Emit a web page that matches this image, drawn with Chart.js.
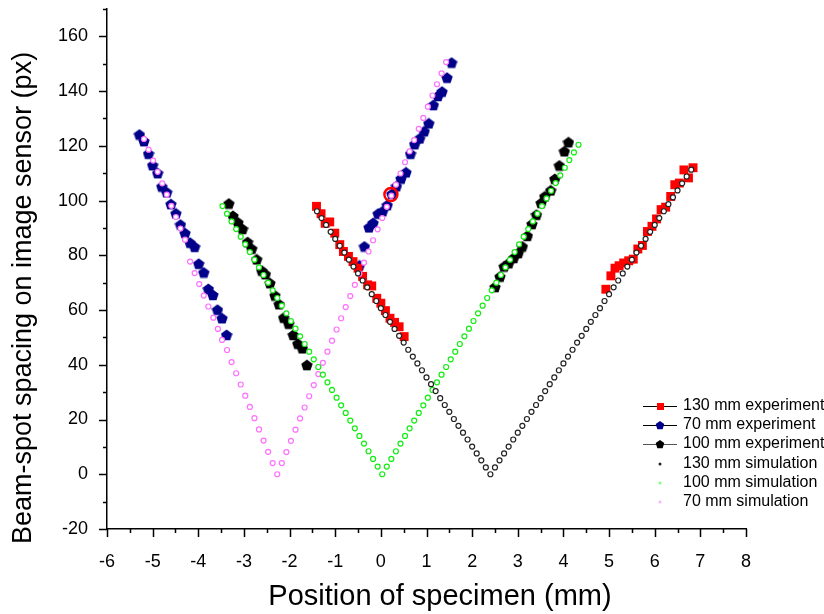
<!DOCTYPE html>
<html>
<head>
<meta charset="utf-8">
<script src="https://cdn.jsdelivr.net/npm/chart.js@4.4.1/dist/chart.umd.min.js"></script>
<style>
  html, body { margin: 0; padding: 0; background: #fff; }
  canvas { display: block; }
</style>
</head>
<body>
<canvas id="chart" width="824" height="614"></canvas>
<script>
// ── Data ──────────────────────────────────────────────────
const xTicks = [-6, -5, -4, -3, -2, -1, 0, 1, 2, 3, 4, 5, 6, 7, 8];
const yTicks = [-20, 0, 20, 40, 60, 80, 100, 120, 140, 160];

const legendLabels = ['130 mm experiment', '70 mm experiment', '100 mm experiment',
                      '130 mm simulation', '100 mm simulation', '70 mm simulation'];

// 130 mm experiment (red squares)
const exp130X = [-1.41, -1.31, -1.22, -1.12, -1.01, -0.90, -0.82, -0.71, -0.61, -0.50, -0.40, -0.29, -0.20, -0.09, 0.00, 0.10, 0.20, 0.30, 0.40, 0.51,
                 4.93, 5.04, 5.13, 5.22, 5.32, 5.43, 5.53, 5.63, 5.73, 5.84, 5.94, 6.04, 6.14, 6.24, 6.35, 6.44, 6.54, 6.64, 6.74, 6.84];
const exp130Y = [97.9, 95.2, 91.7, 92.2, 88.1, 83.9, 81.4, 79.6, 77.7, 75.3, 72.3, 69.2, 68.8, 64.3, 62.5, 59.8, 57.0, 55.5, 53.9, 50.3,
                 67.6, 72.5, 75.3, 76.2, 77.2, 78.0, 78.6, 82.3, 83.6, 88.7, 90.6, 93.3, 96.7, 97.6, 101.5, 105.8, 106.4, 111.2, 108.3, 112.0];

// 70 mm experiment (blue pentagons)
const exp70X = [-5.29, -5.19, -5.09, -5.00, -4.89, -4.80, -4.69, -4.60, -4.49, -4.39, -4.29, -4.18, -4.08, -3.99, -3.88, -3.78, -3.68, -3.58, -3.48, -3.38,
                -0.47, -0.36, -0.26, -0.17, -0.06, 0.04, 0.14, 0.24, 0.34, 0.44, 0.55, 0.65, 0.74, 0.85, 0.95, 1.05, 1.15, 1.25, 1.34, 1.45, 1.55];
const exp70Y = [124.1, 121.7, 117.1, 112.9, 110.0, 105.1, 103.0, 98.7, 95.3, 91.2, 88.1, 84.6, 83.1, 76.9, 73.7, 67.7, 65.5, 60.1, 57.0, 50.9,
                76.3, 83.2, 90.2, 91.8, 95.2, 96.1, 98.3, 102.4, 105.2, 108.0, 110.3, 117.1, 120.6, 122.7, 125.3, 128.2, 134.9, 138.2, 139.8, 144.9, 150.4];

// 100 mm experiment (black pentagons)
const exp100X = [-3.33, -3.24, -3.13, -3.03, -2.92, -2.83, -2.72, -2.61, -2.53, -2.43, -2.32, -2.23, -2.13, -2.02, -1.92, -1.82, -1.72, -1.62,
                 2.50, 2.61, 2.70, 2.80, 2.91, 3.01, 3.10, 3.21, 3.31, 3.41, 3.51, 3.59, 3.72, 3.81, 3.91, 4.02, 4.11];
const exp100Y = [98.9, 94.4, 92.0, 89.6, 84.8, 82.4, 78.5, 74.4, 73.1, 69.8, 65.3, 62.1, 57.2, 55.0, 50.9, 47.7, 46.0, 39.9,
                 68.4, 72.2, 75.9, 77.1, 79.0, 80.8, 83.2, 87.1, 91.4, 94.8, 99.1, 101.5, 103.7, 107.9, 112.8, 118.0, 121.3];

// 130 mm simulation (black open circles)
const sim130X = [-1.40, -1.30, -1.20, -1.10, -1.00, -0.90, -0.80, -0.70, -0.60, -0.50, -0.40, -0.30, -0.20, -0.10, 0.00, 0.10, 0.20, 0.30, 0.40, 0.50,
                 0.60, 0.70, 0.80, 0.90, 1.00, 1.10, 1.20, 1.30, 1.40, 1.50, 1.60, 1.70, 1.80, 1.90, 2.00, 2.10, 2.20, 2.30, 2.40,
                 2.50, 2.60, 2.70, 2.80, 2.90, 3.00, 3.10, 3.20, 3.30, 3.40, 3.50, 3.60, 3.70, 3.80, 3.90, 4.00, 4.10, 4.20, 4.30, 4.40,
                 4.50, 4.60, 4.70, 4.80, 4.90, 5.00, 5.10, 5.20, 5.30, 5.40, 5.50, 5.60, 5.70, 5.80, 5.90, 6.00, 6.10, 6.20, 6.30, 6.40,
                 6.50, 6.60, 6.70, 6.80];
const sim130Y = [96.1, 93.6, 91.1, 88.6, 86.0, 83.5, 81.0, 78.4, 75.9, 73.4, 70.8, 68.3, 65.8, 63.3, 60.7, 58.2, 55.7, 53.1, 50.6, 48.1,
                 45.5, 43.0, 40.5, 38.0, 35.4, 32.9, 30.4, 27.8, 25.3, 22.8, 20.2, 17.7, 15.2, 12.7, 10.1, 7.6, 5.1, 2.5, 0.0,
                 2.5, 5.1, 7.6, 10.1, 12.7, 15.2, 17.7, 20.2, 22.8, 25.3, 27.8, 30.4, 32.9, 35.4, 38.0, 40.5, 43.0, 45.5, 48.1, 50.6,
                 53.1, 55.7, 58.2, 60.7, 63.3, 65.8, 68.3, 70.8, 73.4, 75.9, 78.4, 81.0, 83.5, 86.0, 88.6, 91.1, 93.6, 96.1, 98.7, 101.2,
                 103.7, 106.3, 108.8, 111.3];

// 100 mm simulation (green open circles)
const sim100X = [-3.47, -3.37, -3.27, -3.17, -3.07, -2.97, -2.87, -2.77, -2.67, -2.57, -2.47, -2.37, -2.27, -2.17, -2.07, -1.97, -1.87, -1.77,
                 -1.67, -1.57, -1.47, -1.37, -1.27, -1.17, -1.07, -0.97, -0.87, -0.77, -0.67, -0.57, -0.47, -0.37, -0.27, -0.17, -0.07, 0.03,
                 0.13, 0.23, 0.33, 0.43, 0.53, 0.63, 0.73, 0.83, 0.93, 1.03, 1.13, 1.23, 1.33, 1.43, 1.53, 1.63, 1.73, 1.83, 1.93, 2.03,
                 2.13, 2.23, 2.33, 2.43, 2.53, 2.63, 2.73, 2.83, 2.93, 3.03, 3.13, 3.23, 3.33, 3.43, 3.53, 3.63, 3.73, 3.83, 3.93, 4.03,
                 4.13, 4.23, 4.33];
const sim100Y = [98.0, 95.2, 92.4, 89.6, 86.8, 84.0, 81.2, 78.4, 75.6, 72.8, 70.0, 67.2, 64.4, 61.6, 58.8, 56.0, 53.2, 50.4,
                 47.6, 44.8, 42.0, 39.2, 36.4, 33.6, 30.8, 28.0, 25.2, 22.4, 19.6, 16.8, 14.0, 11.2, 8.4, 5.6, 2.8, 0.0,
                 2.8, 5.6, 8.4, 11.2, 14.0, 16.8, 19.6, 22.4, 25.2, 28.0, 30.8, 33.6, 36.4, 39.2, 42.0, 44.8, 47.6, 50.4, 53.2, 56.0,
                 58.8, 61.6, 64.4, 67.2, 70.0, 72.8, 75.6, 78.4, 81.2, 84.0, 86.8, 89.6, 92.4, 95.2, 98.0, 100.8, 103.6, 106.4, 109.2, 112.0,
                 114.8, 117.6, 120.4];

// 70 mm simulation (pink open circles)
const sim70X = [-5.19, -5.09, -4.99, -4.89, -4.79, -4.69, -4.59, -4.49, -4.39, -4.29, -4.18, -4.08, -3.98, -3.88, -3.78, -3.67, -3.57, -3.48,
                -3.37, -3.27, -3.17, -3.07, -2.97, -2.87, -2.77, -2.67, -2.57, -2.47, -2.37, -2.27,
                -2.17, -2.07, -1.97, -1.87, -1.77, -1.67, -1.57, -1.47, -1.37, -1.27, -1.17, -1.07, -0.97, -0.87, -0.77, -0.67, -0.57,
                -0.47, -0.37, -0.27, -0.17, -0.07, 0.03, 0.13, 0.23, 0.33, 0.43, 0.53, 0.63, 0.73, 0.83, 0.93, 1.03, 1.13, 1.23, 1.33, 1.43];
const sim70Y = [122.5, 118.6, 114.6, 110.5, 106.3, 102.2, 98.1, 94.0, 89.8, 85.7, 77.7, 73.5, 69.5, 65.3, 61.3, 57.2, 53.1, 49.1,
                45.4, 41.0, 36.9, 32.8, 28.7, 24.6, 20.5, 16.4, 12.3, 8.2, 4.1, 0.0,
                4.1, 8.1, 12.2, 16.3, 20.4, 24.4, 28.5, 32.6, 36.6, 40.7, 44.8, 48.8, 52.9, 57.0, 61.1, 65.1, 69.2,
                73.3, 77.3, 81.4, 85.5, 89.5, 93.6, 97.7, 101.8, 105.8, 109.9, 114.0, 118.0, 122.1, 126.2, 130.2, 134.3, 138.4, 142.5, 146.5, 150.6];

// highlighted point (red ring)
const ringX = [0.22];
const ringY = [102.2];

// ── Helpers ───────────────────────────────────────────────
const FONT = "'Liberation Sans', Arial, sans-serif";
const BLUE = '#00008b';
const RED = '#ff0000';
const PINK = '#ff70ff';
const GREEN = '#11ee11';
const GREY = '#222222';

const zip = (xs, ys) => xs.map((x, i) => ({ x, y: ys[i] }));

function pentagonPath(ctx, cx, cy, r) {
  ctx.beginPath();
  for (let i = 0; i < 5; i++) {
    const a = -Math.PI / 2 + i * 2 * Math.PI / 5;
    const px = cx + r * Math.cos(a), py = cy + r * Math.sin(a);
    if (i === 0) ctx.moveTo(px, py); else ctx.lineTo(px, py);
  }
  ctx.closePath();
}

function pentagonImg(color, size) {
  const c = document.createElement('canvas');
  c.width = c.height = size;
  const g = c.getContext('2d');
  g.fillStyle = color;
  pentagonPath(g, size / 2, size / 2 + 0.5, size / 2);
  g.fill();
  return c;
}

// ── Custom ticks, titles and legend ───────────────────────
const decorPlugin = {
  id: 'decor',
  afterDraw(chart) {
    const { ctx, scales: { x, y }, chartArea: a } = chart;
    ctx.save();
    ctx.strokeStyle = '#000';
    ctx.lineWidth = 1.5;
    ctx.beginPath();
    for (let v = -6; v <= 8.001; v += 0.5) {
      const px = Math.round(x.getPixelForValue(v)) + 0.5;
      const len = Math.abs(v % 1) < 1e-6 ? 8 : 4;
      ctx.moveTo(px, a.bottom); ctx.lineTo(px, a.bottom + len);
    }
    for (let v = -20; v <= 170.001; v += 10) {
      const py = Math.round(y.getPixelForValue(v)) + 0.5;
      const len = Math.abs(v % 20) < 1e-6 ? 8 : 4;
      ctx.moveTo(a.left, py); ctx.lineTo(a.left - len, py);
    }
    ctx.stroke();

    // axis titles
    ctx.fillStyle = '#000';
    ctx.textAlign = 'center';
    ctx.textBaseline = 'middle';
    ctx.font = `29px ${FONT}`;
    ctx.fillText('Position of specimen (mm)', 440, 597);
    ctx.save();
    ctx.translate(24, 298);
    ctx.rotate(-Math.PI / 2);
    ctx.font = `27px ${FONT}`;
    ctx.fillText('Beam-spot spacing on image sensor (px)', 0, 0);
    ctx.restore();

    // legend
    const rows = [406, 425, 444, 464, 483, 502];
    ctx.font = `16px ${FONT}`;
    ctx.textAlign = 'left';
    rows.forEach((ry, i) => {
      if (i < 3) {
        ctx.strokeStyle = i === 2 ? '#555' : '#000';
        ctx.lineWidth = 1.2;
        ctx.beginPath();
        ctx.moveTo(643, ry + 0.5); ctx.lineTo(677, ry + 0.5);
        ctx.stroke();
      }
      if (i === 0) { ctx.fillStyle = RED; ctx.fillRect(657, ry - 3, 7, 7); }
      if (i === 1) { ctx.fillStyle = BLUE; pentagonPath(ctx, 660, ry + 0.5, 4.5); ctx.fill(); }
      if (i === 2) { ctx.fillStyle = '#000'; pentagonPath(ctx, 660, ry + 0.5, 4.5); ctx.fill(); }
      if (i >= 3) {
        ctx.fillStyle = [GREY, '#80ff80', '#ffb0ff'][i - 3];
        ctx.beginPath(); ctx.arc(660, ry, 1.5, 0, Math.PI * 2); ctx.fill();
      }
      ctx.fillStyle = '#000';
      ctx.fillText(legendLabels[i], 683, ry);
    });
    ctx.restore();
  }
};

// ── Chart ─────────────────────────────────────────────────
const simStyle = (color) => ({
  showLine: false, pointStyle: 'circle', pointRadius: 2.5, pointBorderWidth: 1.2,
  pointBorderColor: color, pointBackgroundColor: '#fff', order: 1
});

new Chart(document.getElementById('chart'), {
  type: 'scatter',
  data: {
    datasets: [
      { label: 'ring', data: zip(ringX, ringY), pointStyle: 'circle', pointRadius: 6.5, pointBorderWidth: 2.5,
        pointBorderColor: RED, pointBackgroundColor: 'rgba(0,0,0,0)', order: 0 },
      { label: legendLabels[3], data: zip(sim130X, sim130Y), ...simStyle(GREY) },
      { label: legendLabels[4], data: zip(sim100X, sim100Y), ...simStyle(GREEN) },
      { label: legendLabels[5], data: zip(sim70X, sim70Y), ...simStyle(PINK) },
      { label: legendLabels[0], data: zip(exp130X, exp130Y), pointStyle: 'rect', pointRadius: 6.3,
        pointBorderWidth: 0, pointBackgroundColor: RED, order: 2 },
      { label: legendLabels[1], data: zip(exp70X, exp70Y), pointStyle: pentagonImg(BLUE, 12), order: 2 },
      { label: legendLabels[2], data: zip(exp100X, exp100Y), pointStyle: pentagonImg('#000', 12), order: 2 }
    ]
  },
  options: {
    responsive: false,
    animation: false,
    layout: { padding: { top: 8, right: 78, left: 0, bottom: 0 } },
    plugins: { legend: { display: false }, tooltip: { enabled: false } },
    scales: {
      x: {
        type: 'linear', min: -6, max: 8,
        grid: { display: false },
        border: { display: true, color: '#000', width: 1.5 },
        afterBuildTicks: s => { s.ticks = xTicks.map(v => ({ value: v })); },
        afterFit: s => { s.height = 85; s.paddingLeft = 0; s.paddingRight = 0; },
        ticks: { color: '#000', padding: 14, maxRotation: 0, font: { family: FONT, size: 18 } }
      },
      y: {
        type: 'linear', min: -20, max: 170,
        grid: { display: false },
        border: { display: true, color: '#000', width: 1.5 },
        afterBuildTicks: s => { s.ticks = yTicks.map(v => ({ value: v })); },
        afterFit: s => { s.width = 107; s.paddingTop = 0; s.paddingBottom = 0; },
        ticks: { color: '#000', padding: 11, font: { family: FONT, size: 18 } }
      }
    }
  },
  plugins: [decorPlugin]
});
</script>
</body>
</html>
